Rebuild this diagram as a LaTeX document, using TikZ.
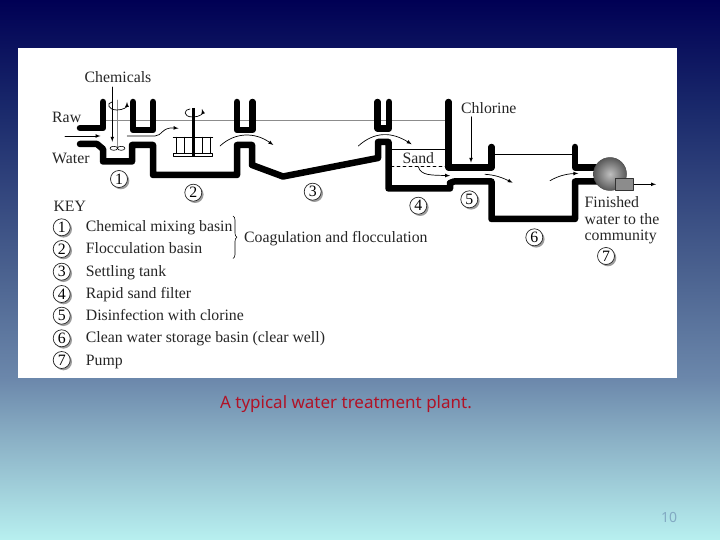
\documentclass[tikz,border=0pt]{standalone}
\usepackage{fontspec}
\setmainfont{Liberation Serif}
\newfontfamily\slidefont{Noto Sans}
\usetikzlibrary{shadows,decorations.pathreplacing}
\definecolor{captionred}{RGB}{176,18,38}
\definecolor{pagenum}{RGB}{130,170,195}
\pgfdeclareverticalshading{slidebg}{100bp}{
  rgb(0bp)=(0.72,0.94,0.94);
  rgb(25bp)=(0.72,0.94,0.94);
  rgb(34bp)=(0.55,0.70,0.78);
  rgb(40bp)=(0.42,0.53,0.67);
  rgb(50bp)=(0.29,0.38,0.56);
  rgb(65bp)=(0.10,0.16,0.42);
  rgb(75bp)=(0.0,0.0,0.33);
  rgb(100bp)=(0.0,0.0,0.33)}
\tikzset{
  wall/.style={line width=6.5pt},
  level/.style={line width=0.7pt,black!45},
  flow/.style={line width=0.7pt,->},
  thin line/.style={line width=0.7pt},
  label/.style={font=\fontsize{15.8}{16.7}\selectfont,text=black!85,inner sep=0pt},
  numdisc/.style={circle,draw=black!85,line width=0.7pt,fill=white,minimum size=17pt,inner sep=0pt,
    font=\fontsize{15.8}{17}\selectfont,drop shadow={shadow xshift=1.8pt,shadow yshift=-1.8pt,fill=black!55,opacity=0.7}},
}
\begin{document}
\begin{tikzpicture}[x=1pt,y=-1pt,line cap=round,line join=round,>=latex]
  \useasboundingbox (0,0) rectangle (720,540);
  \shade[shading=slidebg] (0,0) rectangle (720,540);
  \fill[white] (18,48) rectangle (677,378);

  \draw[level] (103,120.7) -- (448,120.7);
  \draw[thin line] (391,149) -- (446,149);
  \draw[thin line,dashed] (391,166) -- (446,166);
  \draw[thin line] (491,154) -- (575,154);

  \draw[wall] (80,128) -- (103,128) -- (103,102);
  \draw[wall] (80,144) -- (97,144) -- (103,149) -- (103,161.5) -- (132,161.5) -- (132,145) -- (153,145)
    -- (153,175) -- (237,175) -- (237,145) -- (252,145) -- (252,165) -- (283,176.5) -- (378,158)
    -- (378,142) -- (388.5,142) -- (388.5,188.5) -- (450,188.5) -- (450,183) -- (454,181.5) -- (491.5,181.5)
    -- (491.5,219) -- (575,219) -- (575,181.5) -- (597,181.5);
  \draw[wall] (133,102) -- (133,130) -- (153,130) -- (153,102);
  \draw[wall] (237,102) -- (237,130) -- (252.5,130) -- (252.5,102);
  \draw[wall] (377.5,102) -- (377.5,128.5) -- (389,128.5) -- (389,102);
  \draw[wall] (448.5,102) -- (448.5,167.5) -- (491.5,167.5) -- (491.5,147);
  \draw[wall] (575,147) -- (575,167.5) -- (597,167.5);

  \draw[line width=0.7pt,black!45] (117.3,100) -- (117.3,148);
  \draw[line width=0.6pt] (113.8,148.3) ellipse (3.8 and 2);
  \draw[line width=0.6pt] (121.2,148.3) ellipse (3.8 and 2);
  \draw[flow] (112,102) .. controls (106,103) and (108,110) .. (117,110) .. controls (123,110) and (127,107) .. (127,102);

  \draw[line width=3pt,line cap=butt] (193.3,108) -- (193.3,156.5);
  \draw[line width=0.8pt] (173.3,137.3) -- (212.7,137.3);
  \draw[line width=0.8pt] (173.3,153.3) rectangle (212.7,156.5);
  \draw[line width=0.8pt] (176,137.3) -- (176,153.3);
  \draw[line width=0.8pt] (184,137.3) -- (184,153.3);
  \draw[line width=0.8pt] (202,137.3) -- (202,153.3);
  \draw[line width=0.8pt] (210,137.3) -- (210,153.3);
  \draw[flow] (190,109) .. controls (184,109) and (182,117) .. (193,117) .. controls (200,117) and (203,113) .. (202,109);

  \draw[flow] (65,136) -- (100.5,136);
  \draw[flow] (112.3,87) -- (112.3,141.7);
  \draw[flow] (127.3,136) -- (155,136) .. controls (162,136) and (162,127) .. (178.5,128.3);
  \draw[flow] (220,146) .. controls (235,132) and (255,132) .. (273.3,145);
  \draw[flow] (358.3,146) .. controls (375,131) and (392,132) .. (411.7,144.3);
  \draw[flow] (418.3,166.7) .. controls (421,176) and (432,175) .. (450,175.7);
  \draw[flow] (471,116.7) -- (471,162.7);
  \draw[flow] (485,174.3) .. controls (496,175) and (503,178) .. (512.7,182.7);
  \draw[flow] (550,180.7) .. controls (558,176) and (566,174) .. (578.3,173.3);
  \draw[flow] (633.3,184.3) -- (656,184.3);

  \shade[inner color=black!25,outer color=black!65,draw=black!70,line width=0.5pt] (610,174) circle (16.5);
  \fill[black!45,draw=black!80,line width=0.6pt,line cap=butt] (615,178.3) rectangle (633.3,190);

  \node[label,anchor=base] (chemicals) at (118,82.7) {Chemicals};
  \node[label,anchor=base west] (raw) at (52,122.3) {Raw};
  \node[label,anchor=base west] (water) at (52,163.3) {Water};
  \node[label,anchor=base] (sand) at (418.3,164) {Sand};
  \node[label,anchor=base west] (chlorine) at (461,113.3) {Chlorine};
  \node[label,anchor=base west] (finished) at (584.5,207.3) {Finished};
  \node[label,anchor=base west] (finishedtwo) at (584.5,224.5) {water to the};
  \node[label,anchor=base west] (finishedthree) at (584.5,240.7) {community};

  \node[numdisc] (one) at (119,179) {1};
  \node[numdisc] (two) at (193.3,192.7) {2};
  \node[numdisc] (three) at (312.7,191.7) {3};
  \node[numdisc] (four) at (418.3,205.7) {4};
  \node[numdisc] (five) at (469.3,199.3) {5};
  \node[numdisc] (six) at (534.3,237.3) {6};
  \node[numdisc] (seven) at (606,256) {7};

  \node[label,anchor=base west] (key) at (53.3,211.7) {KEY};
  \node[numdisc] (keyone) at (61.7,227.3) {1};
  \node[numdisc] (keytwo) at (61.7,249) {2};
  \node[numdisc] (keythree) at (61.7,271.7) {3};
  \node[numdisc] (keyfour) at (61.7,294) {4};
  \node[numdisc] (keyfive) at (61.7,315.7) {5};
  \node[numdisc] (keysix) at (61.7,338.3) {6};
  \node[numdisc] (keyseven) at (61.7,360) {7};
  \node[label,anchor=base west] (mixing) at (85.7,232) {Chemical mixing basin};
  \node[label,anchor=base west] (floc) at (85.7,254) {Flocculation basin};
  \node[label,anchor=base west] (settling) at (85.7,276) {Settling tank};
  \node[label,anchor=base west] (filter) at (85.7,298) {Rapid sand filter};
  \node[label,anchor=base west] (disinfect) at (85.7,320) {Disinfection with clorine};
  \node[label,anchor=base west] (clearwell) at (85.7,342.7) {Clean water storage basin (clear well)};
  \node[label,anchor=base west] (pump) at (85.7,365) {Pump};
  \draw[line width=0.6pt,decorate,decoration={brace,amplitude=4pt}] (233,216) -- (233,258.5);
  \node[label,anchor=base west] (coag) at (244,242.3) {Coagulation and flocculation};

  \node[font=\slidefont\fontsize{17}{20}\selectfont,text=captionred,inner sep=0pt,anchor=base] (caption) at (346,408) {A typical water treatment plant.};
  \node[font=\slidefont\fontsize{14}{16}\selectfont,text=pagenum,inner sep=0pt] (pagenumber) at (669,517) {10};
\end{tikzpicture}
\end{document}
